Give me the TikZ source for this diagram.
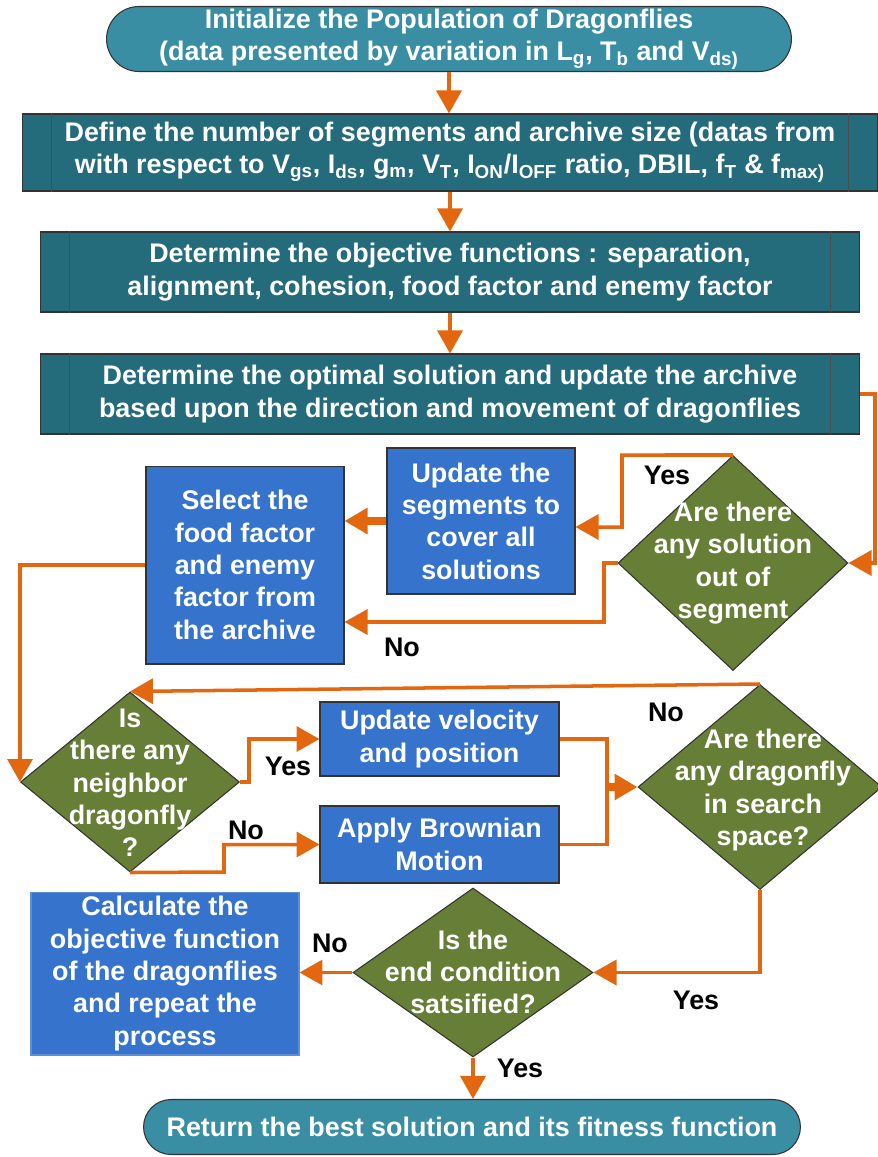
\documentclass[tikz,border=0pt]{standalone}
\usepackage{fontspec}
\setmainfont{Liberation Sans}
\usetikzlibrary{shapes.geometric,arrows.meta,calc}
\definecolor{orng}{HTML}{E2670E}
\definecolor{termc}{HTML}{3A8EA4}
\definecolor{procc}{HTML}{246B7C}
\definecolor{bluec}{HTML}{3573CC}
\definecolor{olivec}{HTML}{677E37}
\begin{document}
\begin{tikzpicture}[x=0.02cm,y=-0.02cm,
  font=\bfseries\fontsize{15.3}{18.4}\selectfont,
  term/.style={draw=black!80, line width=0.6pt, fill=termc, text=white, align=center, inner sep=0pt},
  proc/.style={draw=black!80, line width=0.6pt, fill=procc, text=white, align=center, inner sep=0pt},
  procline/.style={draw=black!70, line width=0.6pt},
  bbox/.style={draw=black!80, line width=0.6pt, fill=bluec, text=white, align=center, inner sep=0pt},
  dia/.style={diamond, draw=black!80, line width=0.6pt, fill=olivec, inner sep=0pt},
  dtext/.style={text=white, align=center, inner sep=0pt},
  lbl/.style={text=black, inner sep=0pt},
  arr/.style={draw=orng, line width=2pt, -{Triangle[width=0.5cm,length=0.46cm]}},
  ln/.style={draw=orng, line width=2pt},
  tarr/.style={draw=orng, line width=4pt, -{Triangle[width=0.5cm,length=0.46cm]}}]
\useasboundingbox (0,0) rectangle (877,1157);

% top terminal
\node[term, minimum width=13.7cm, minimum height=1.3cm, rounded corners=0.65cm] (start) at (449,39)
  {Initialize the Population of Dragonflies\\(data presented by variation in L\textsubscript{g}, T\textsubscript{b} and V\textsubscript{ds)}};

% predefined processes
\node[proc, minimum width=17.12cm, minimum height=1.54cm] (def) at (450,152.5)
  {Define the number of segments and archive size (datas from\\with respect to V\textsubscript{gs}, I\textsubscript{ds}, g\textsubscript{m}, V\textsubscript{T}, I\textsubscript{ON}/I\textsubscript{OFF} ratio, DBIL, f\textsubscript{T} \& f\textsubscript{max)}};
\draw[procline] ($(def.north west)+(30,0)$) -- ($(def.south west)+(30,0)$);
\draw[procline] ($(def.north east)+(-30,0)$) -- ($(def.south east)+(-30,0)$);

\node[proc, minimum width=16.4cm, minimum height=1.6cm] (obj) at (450,272)
  {Determine the objective functions : separation,\\alignment, cohesion, food factor and enemy factor};
\draw[procline] ($(obj.north west)+(30,0)$) -- ($(obj.south west)+(30,0)$);
\draw[procline] ($(obj.north east)+(-30,0)$) -- ($(obj.south east)+(-30,0)$);

\node[proc, minimum width=16.4cm, minimum height=1.6cm] (opt) at (450,394)
  {Determine the optimal solution and update the archive\\based upon the direction and movement of dragonflies};
\draw[procline] ($(opt.north west)+(30,0)$) -- ($(opt.south west)+(30,0)$);
\draw[procline] ($(opt.north east)+(-30,0)$) -- ($(opt.south east)+(-30,0)$);

% middle part
\node[bbox, minimum width=3.76cm, minimum height=2.92cm] (upd) at (481,521)
  {Update the\\segments to\\cover all\\solutions};
\node[bbox, minimum width=3.96cm, minimum height=3.96cm] (sel) at (245,565)
  {Select the\\food factor\\and enemy\\factor from\\the archive};
\node[dia, minimum width=4.6cm, minimum height=4.3cm] (dia1) at (733,563) {};
\node[dtext] (dia1t) at (733,563) {Are there\\any solution\\out of\\segment};

\node[dia, minimum width=4.38cm, minimum height=3.6cm] (dia2) at (130,782) {};
\node[dtext] (dia2t) at (130,783) {Is\\there any\\neighbor\\dragonfly\\?};

\node[bbox, minimum width=4.78cm, minimum height=1.48cm] (vel) at (439.5,739)
  {Update velocity\\and position};
\node[bbox, minimum width=4.78cm, minimum height=1.54cm] (brown) at (439.5,844.5)
  {Apply Brownian\\Motion};

\node[dia, minimum width=4.88cm, minimum height=4.1cm] (dia3) at (760,787) {};
\node[dtext] (dia3t) at (763,790) {Are there\\any dragonfly\\in search\\space?};

\node[dia, minimum width=4.8cm, minimum height=3.38cm] (dia4) at (473,972.5) {};
\node[dtext] (dia4t) at (473,972) {Is the\\end condition\\satsified?};

\node[bbox, draw=bluec!80!white, minimum width=5.36cm, minimum height=3.26cm] (calc) at (165,973.5)
  {Calculate the\\objective function\\of the dragonflies\\and repeat the\\process};

\node[term, minimum width=13.14cm, minimum height=1.1cm, rounded corners=0.55cm] (end) at (472,1127)
  {Return the best solution and its fitness function};

% coordinates
\coordinate (rt) at (875,394);
\coordinate (c1) at (622,455);
\coordinate (c2) at (622,527);
\coordinate (c3) at (604,622);
\coordinate (c4) at (249,782);
\coordinate (c5) at (224,872);
\coordinate (c6) at (607,739);
\coordinate (c7) at (607,787);

% connectors
\draw[arr] (start.south) -- (start.south |- def.north);
\draw[arr] (def.south) -- (obj.north);
\draw[arr] (obj.south) -- (opt.north);
\draw[arr] (opt.east) -- (rt) |- (dia1.east);
\draw[arr] (dia1.north) -- (c1) -- (c2) -- (c2 -| upd.east);
\draw[arr] (dia1.west) -| (c3) -- (c3 -| sel.east);
\draw[tarr] (upd.west) -- (upd.west -| sel.east);
\draw[arr] (sel.west) -| (dia2.west);
\draw[arr] (dia3.north) -- (dia2.north);
\draw[arr] (dia2.east) -- (c4) |- (vel.west);
\draw[arr] (dia2.south) -- (c5) |- (brown.west);
\draw[ln] (vel.east) -- (c6) |- (brown.east);
\draw[tarr] (c7) -- (dia3.west);
\draw[arr] (dia3.south) |- (dia4.east);
\draw[arr] (dia4.west) -- (dia4.west -| calc.east);
\draw[arr] (dia4.south) -- (dia4.south |- end.north);

% labels
\node[lbl] (l1) at (667,475) {Yes};
\node[lbl] (l2) at (402,647) {No};
\node[lbl] (l3) at (666,712) {No};
\node[lbl] (l4) at (288,766) {Yes};
\node[lbl] (l5) at (246,830) {No};
\node[lbl] (l6) at (330,943) {No};
\node[lbl] (l7) at (696,1000) {Yes};
\node[lbl] (l8) at (520,1068) {Yes};
\end{tikzpicture}
\end{document}
